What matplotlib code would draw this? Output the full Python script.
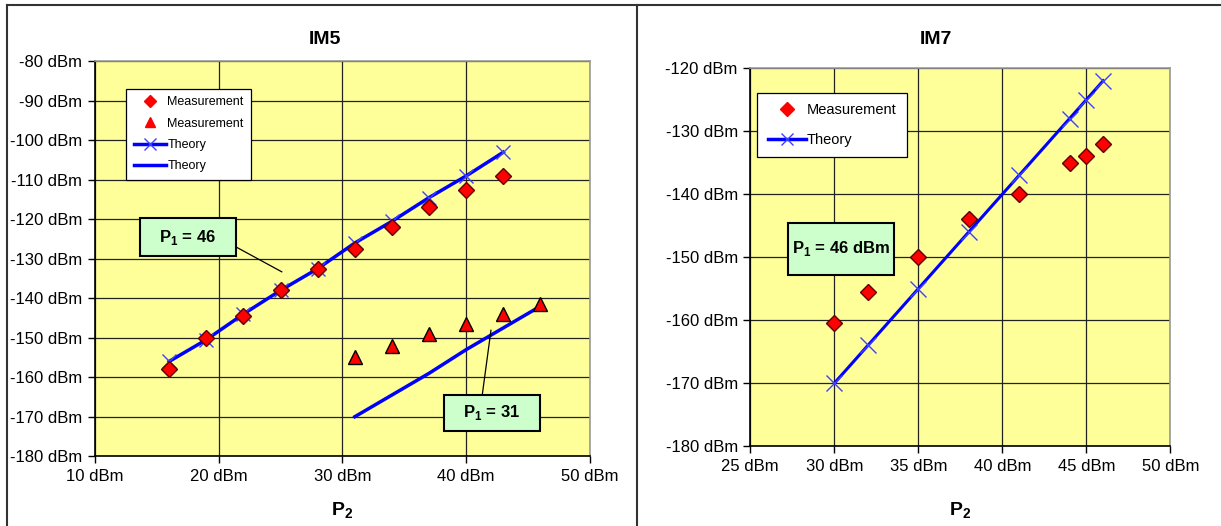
import matplotlib.pyplot as plt
from matplotlib.patches import Rectangle
from matplotlib.lines import Line2D

plt.rcParams['font.family'] = ['Liberation Sans', 'DejaVu Sans']

# IM5 panel data
im5_meas46_x = [16, 19, 22, 25, 28, 31, 34, 37, 40, 43]
im5_meas46_y = [-158, -150, -144.5, -138, -132.5, -127.5, -122, -117, -112.5, -109]
im5_theory46_x = [16, 19, 22, 25, 28, 31, 34, 37, 40, 43]
im5_theory46_y = [-156, -150.5, -144, -138, -132.5, -126, -120.5, -114.5, -109, -103]
im5_meas31_x = [31, 34, 37, 40, 43, 46]
im5_meas31_y = [-155, -152, -149, -146.5, -144, -141.5]
im5_theory31_x = [31, 34, 37, 40, 43, 46]
im5_theory31_y = [-170, -164.5, -159, -153, -147.5, -142]

# IM7 panel data
im7_x = [30, 32, 35, 38, 41, 44, 45, 46]
im7_meas_y = [-160.5, -155.5, -150, -144, -140, -135, -134, -132]
im7_theory_y = [-170, -164, -155, -146, -137, -128, -125, -122]

im5_xticks = [10, 20, 30, 40, 50]
im5_yticks = [-80, -90, -100, -110, -120, -130, -140, -150, -160, -170, -180]
im7_xticks = [25, 30, 35, 40, 45, 50]
im7_yticks = [-120, -130, -140, -150, -160, -170, -180]

BG = '#ffff99'
BLUE = '#0000ff'
RED = '#ff0000'

fig = plt.figure(figsize=(12.21, 5.26), dpi=100)


def style_axes(ax, xticks, yticks):
    ax.set_facecolor(BG)
    ax.set_xlim(xticks[0], xticks[-1])
    ax.set_ylim(min(yticks), max(yticks))
    ax.set_xticks(xticks)
    ax.set_yticks(yticks)
    ax.set_xticklabels([f'{t} dBm' for t in xticks], fontsize=12)
    ax.set_yticklabels([f'{t} dBm' for t in yticks], fontsize=12)
    ax.grid(True, color='#222222', linewidth=0.9)
    ax.set_axisbelow(True)
    ax.tick_params(direction='out', length=5, width=1, color='black', pad=4)
    ax.spines['left'].set_color('black')
    ax.spines['bottom'].set_color('black')
    ax.spines['top'].set_color('#999999')
    ax.spines['right'].set_color('#999999')
    for s in ax.spines.values():
        s.set_linewidth(1.2)


def label_box(ax, x0, y0, w, h, text, size=12):
    # green annotation box in axes coordinates
    ax.add_patch(Rectangle((x0, y0), w, h, transform=ax.transAxes,
                           facecolor='#ccffcc', edgecolor='black',
                           linewidth=1.5, zorder=6))
    ax.text(x0 + w / 2, y0 + h / 2, text, transform=ax.transAxes,
            ha='center', va='center', fontsize=size, fontweight='bold', zorder=7)


# ---- IM5 ----
ax1 = fig.add_axes([0.0777, 0.1327, 0.4055, 0.7506])
style_axes(ax1, im5_xticks, im5_yticks)
ax1.plot(im5_theory46_x, im5_theory46_y, color=BLUE, linewidth=2.5,
         marker='x', markersize=10, markeredgewidth=1, markeredgecolor='#4040ff', zorder=3)
ax1.plot(im5_theory31_x, im5_theory31_y, color=BLUE, linewidth=2.5, zorder=3)
ax1.plot(im5_meas46_x, im5_meas46_y, linestyle='none', marker='D', markersize=8,
         markerfacecolor=RED, markeredgecolor='#600000', markeredgewidth=1, zorder=4)
ax1.plot(im5_meas31_x, im5_meas31_y, linestyle='none', marker='^', markersize=10,
         markerfacecolor=RED, markeredgecolor='black', markeredgewidth=1, zorder=4)

# leader lines
ax1.plot([21.4, 25.1], [-127.0, -133.3], color='black', linewidth=0.9, zorder=5)
ax1.plot([41.3, 42.0], [-164.4, -148.1], color='black', linewidth=0.9, zorder=5)
label_box(ax1, 0.091, 0.507, 0.194, 0.096, 'P$_\\mathregular{1}$ = 46')
label_box(ax1, 0.705, 0.064, 0.194, 0.092, 'P$_\\mathregular{1}$ = 31')

h1 = [Line2D([], [], linestyle='none', marker='D', markersize=6,
             markerfacecolor=RED, markeredgecolor=RED),
      Line2D([], [], linestyle='none', marker='^', markersize=7,
             markerfacecolor=RED, markeredgecolor=RED),
      Line2D([], [], color=BLUE, linewidth=2.5, marker='x', markersize=8,
             markeredgecolor='#4040ff', markeredgewidth=1),
      Line2D([], [], color=BLUE, linewidth=2.5)]
leg1 = ax1.legend(h1, ['Measurement', 'Measurement', 'Theory', 'Theory'],
                  loc='upper left', bbox_to_anchor=(0.063, 0.931), fontsize=9,
                  fancybox=False, framealpha=1, edgecolor='black',
                  handlelength=2.6, handletextpad=0.1, borderpad=0.6,
                  labelspacing=0.75, borderaxespad=0)
leg1.get_frame().set_linewidth(0.9)

fig.text(325 / 1221, 1 - 40 / 526, 'IM5', ha='center', va='center',
         fontsize=14, fontweight='bold')
fig.text(342 / 1221, 1 - 511 / 526, 'P$_\\mathregular{2}$', ha='center', va='center',
         fontsize=14, fontweight='bold')

# ---- IM7 ----
ax2 = fig.add_axes([0.6145, 0.1517, 0.3441, 0.7188])
style_axes(ax2, im7_xticks, im7_yticks)
ax2.plot(im7_x, im7_theory_y, color=BLUE, linewidth=2.2,
         marker='x', markersize=12, markeredgewidth=1, markeredgecolor='#4040ff', zorder=3)
ax2.plot(im7_x, im7_meas_y, linestyle='none', marker='D', markersize=8,
         markerfacecolor=RED, markeredgecolor='#600000', markeredgewidth=1, zorder=4)
label_box(ax2, 0.089, 0.453, 0.253, 0.138, 'P$_\\mathregular{1}$ = 46 dBm')

h2 = [Line2D([], [], linestyle='none', marker='D', markersize=7,
             markerfacecolor=RED, markeredgecolor=RED),
      Line2D([], [], color=BLUE, linewidth=2.5, marker='x', markersize=9,
             markeredgecolor='#4040ff', markeredgewidth=1)]
leg2 = ax2.legend(h2, ['Measurement', 'Theory'],
                  loc='upper left', bbox_to_anchor=(0.017, 0.935), fontsize=10.5,
                  fancybox=False, framealpha=1, edgecolor='black',
                  handlelength=2.6, handletextpad=0.1, borderpad=0.7,
                  labelspacing=1.1, borderaxespad=0)
leg2.get_frame().set_linewidth(0.9)

fig.text(936 / 1221, 1 - 40 / 526, 'IM7', ha='center', va='center',
         fontsize=14, fontweight='bold')
fig.text(960 / 1221, 1 - 511 / 526, 'P$_\\mathregular{2}$', ha='center', va='center',
         fontsize=14, fontweight='bold')

# panel frame lines
fig.add_artist(Line2D([7 / 1221, 1], [1 - 5 / 526, 1 - 5 / 526],
                      color='#333333', linewidth=1.5))
fig.add_artist(Line2D([7 / 1221, 7 / 1221], [0, 1 - 5 / 526],
                      color='#333333', linewidth=1.5))
fig.add_artist(Line2D([637 / 1221, 637 / 1221], [0, 1 - 5 / 526],
                      color='#333333', linewidth=1.5))

fig.savefig('out.png', dpi=100)
